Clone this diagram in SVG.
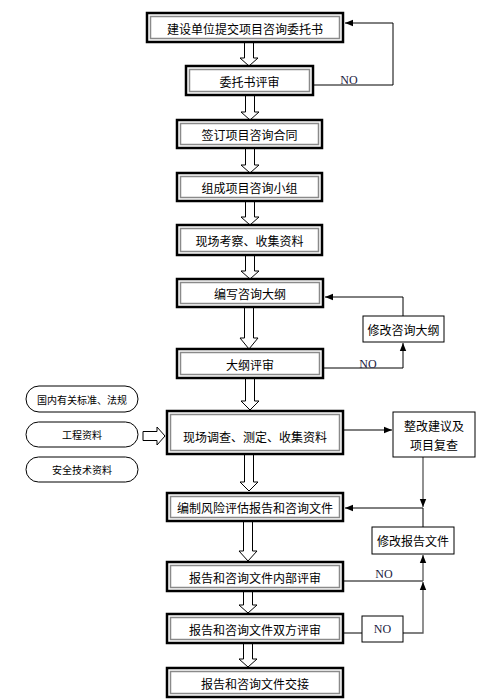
<svg xmlns="http://www.w3.org/2000/svg" width="501" height="700" viewBox="0 0 501 700">
<style>
.bo{fill:#fff;stroke:#000;stroke-width:2.5}
.bi{fill:none;stroke:#8a8a8a;stroke-width:1.5}
.t{font-family:"Noto Sans CJK SC","Liberation Sans",sans-serif;font-size:12px;fill:#000;text-anchor:middle;dominant-baseline:central}
.ts{font-family:"Noto Sans CJK SC","Liberation Sans",sans-serif;font-size:10px;fill:#000;text-anchor:middle;dominant-baseline:central}
.no{font-family:"Liberation Serif",serif;font-size:12px;fill:#1a1a40;text-anchor:middle;dominant-baseline:central}
.sb{fill:#fff;stroke:#000;stroke-width:1}
.pill{fill:#fff;stroke:#000;stroke-width:1}
.ha{fill:#fff;stroke:#000;stroke-width:1}
.ln{fill:none;stroke:#000;stroke-width:1}
.lg{fill:none;stroke:#555;stroke-width:1.3}
</style>
<defs>
<marker id="ah" viewBox="0 0 10 10" refX="10" refY="5" markerWidth="8" markerHeight="8" markerUnits="userSpaceOnUse" orient="auto">
<path d="M0,1 L10,5 L0,9 Z" fill="#000"/>
</marker>
</defs>
<g id="connectors">
<path class="ha" d="M244.5,42 L253.5,42 L253.5,58 L258,58 L249,66 L240,58 L244.5,58 Z"/>
<path class="ha" d="M245.5,95 L254.5,95 L254.5,112 L259,112 L250,120 L241,112 L245.5,112 Z"/>
<path class="ha" d="M245.5,148 L254.5,148 L254.5,165 L259,165 L250,173 L241,165 L245.5,165 Z"/>
<path class="ha" d="M245.5,201 L254.5,201 L254.5,217 L259,217 L250,225 L241,217 L245.5,217 Z"/>
<path class="ha" d="M245.5,255 L254.5,255 L254.5,271 L259,271 L250,279 L241,271 L245.5,271 Z"/>
<path class="ha" d="M244.5,307 L253.5,307 L253.5,338 L258,338 L249,349 L240,338 L244.5,338 Z"/>
<path class="ha" d="M245.5,378 L254.5,378 L254.5,401 L259,401 L250,410 L241,401 L245.5,401 Z"/>
<path class="ha" d="M244.5,453 L253.5,453 L253.5,482 L258,482 L249,491 L240,482 L244.5,482 Z"/>
<path class="ha" d="M243.5,520 L252.5,520 L252.5,551 L257,551 L248,561 L239,551 L243.5,551 Z"/>
<path class="ha" d="M243.5,591 L252.5,591 L252.5,605 L257,605 L248,613 L239,605 L243.5,605 Z"/>
<path class="ha" d="M243.5,643 L252.5,643 L252.5,659 L257,659 L248,667 L239,659 L243.5,659 Z"/>
<path class="ha" d="M143,431.5 L157,431.5 L157,427 L165,436 L157,445 L157,440.5 L143,440.5 Z"/>
<path class="ln" d="M313,85 L393,85 L393,23 L345,23" marker-end="url(#ah)"/>
<path class="ln" d="M403,316 L403,297 L325,297" marker-end="url(#ah)"/>
<path class="ln" d="M323,368 L403,368 L403,343" marker-end="url(#ah)"/>
<path class="lg" d="M343,430 L392,430" marker-end="url(#ah)"/>
<path class="lg" d="M423,457 L423,507" marker-end="url(#ah)"/>
<path class="ln" d="M423,527 L423,508 L345,508" marker-end="url(#ah)"/>
<path class="ln" d="M343,581 L423,581"/>
<path class="lg" d="M423,581 L423,555" marker-end="url(#ah)"/>
<path class="ln" d="M343,633 L362,633"/>
<path class="lg" d="M403,633 L423,633 L423,582" marker-end="url(#ah)"/>
<text class="no" x="349" y="80">NO</text>
<text class="no" x="368" y="364">NO</text>
<text class="no" x="384" y="574">NO</text>
</g>
<g id="n1"><rect class="bo" x="147" y="13" width="196" height="29"/><rect class="bi" x="150.5" y="16.5" width="189" height="22"/><text class="t" x="245" y="28">建设单位提交项目咨询委托书</text></g>
<g id="n2"><rect class="bo" x="186" y="66" width="127" height="29"/><rect class="bi" x="189.5" y="69.5" width="120" height="22"/><text class="t" x="249.5" y="81">委托书评审</text></g>
<g id="n3"><rect class="bo" x="177" y="120" width="145" height="28"/><rect class="bi" x="180.5" y="123.5" width="138" height="21"/><text class="t" x="249.5" y="134.5">签订项目咨询合同</text></g>
<g id="n4"><rect class="bo" x="177" y="173" width="145" height="28"/><rect class="bi" x="180.5" y="176.5" width="138" height="21"/><text class="t" x="249.5" y="187.5">组成项目咨询小组</text></g>
<g id="n5"><rect class="bo" x="177" y="225" width="145" height="30"/><rect class="bi" x="180.5" y="228.5" width="138" height="23"/><text class="t" x="249.5" y="240.5">现场考察、收集资料</text></g>
<g id="n6"><rect class="bo" x="177" y="279" width="146" height="28"/><rect class="bi" x="180.5" y="282.5" width="139" height="21"/><text class="t" x="250" y="293.5">编写咨询大纲</text></g>
<g id="n7"><rect class="bo" x="177" y="349" width="146" height="29"/><rect class="bi" x="180.5" y="352.5" width="139" height="22"/><text class="t" x="250" y="364">大纲评审</text></g>
<g id="n8"><rect class="sb" x="363" y="316" width="81" height="26"/><text class="t" x="403.5" y="329">修改咨询大纲</text></g>
<g id="p1"><rect class="pill" x="26" y="386" width="112" height="26" rx="13"/><text class="ts" x="82" y="399">国内有关标准、法规</text></g>
<g id="p2"><rect class="pill" x="26" y="422" width="112" height="25" rx="12.5"/><text class="ts" x="82" y="434.5">工程资料</text></g>
<g id="p3"><rect class="pill" x="26" y="457" width="112" height="25" rx="12.5"/><text class="ts" x="82" y="469.5">安全技术资料</text></g>
<g id="n9"><rect class="bo" x="167" y="411" width="176" height="43"/><rect class="bi" x="170.5" y="414.5" width="169" height="36"/><text class="t" x="255" y="436">现场调查、测定、收集资料</text></g>
<g id="n10"><rect class="sb" x="393" y="412" width="82" height="45"/><text class="t" x="434" y="425">整改建议及</text><text class="t" x="434" y="444">项目复查</text></g>
<g id="n11"><rect class="bo" x="167" y="493" width="176" height="28"/><rect class="bi" x="170.5" y="496.5" width="169" height="21"/><text class="t" x="255" y="507">编制风险评估报告和咨询文件</text></g>
<g id="n12"><rect class="sb" x="372" y="527" width="82" height="27"/><text class="t" x="413" y="540.5">修改报告文件</text></g>
<g id="n13"><rect class="bo" x="167" y="562" width="176" height="29"/><rect class="bi" x="170.5" y="565.5" width="169" height="22"/><text class="t" x="255" y="577">报告和咨询文件内部评审</text></g>
<g id="n14"><rect class="bo" x="167" y="614" width="176" height="29"/><rect class="bi" x="170.5" y="617.5" width="169" height="22"/><text class="t" x="255" y="629">报告和咨询文件双方评审</text></g>
<g id="n15"><rect class="sb" x="362" y="616" width="41" height="26"/><text class="no" x="382.5" y="629">NO</text></g>
<g id="n16"><rect class="bo" x="167" y="668" width="176" height="29"/><rect class="bi" x="170.5" y="671.5" width="169" height="22"/><text class="t" x="255" y="683">报告和咨询文件交接</text></g>
</svg>
